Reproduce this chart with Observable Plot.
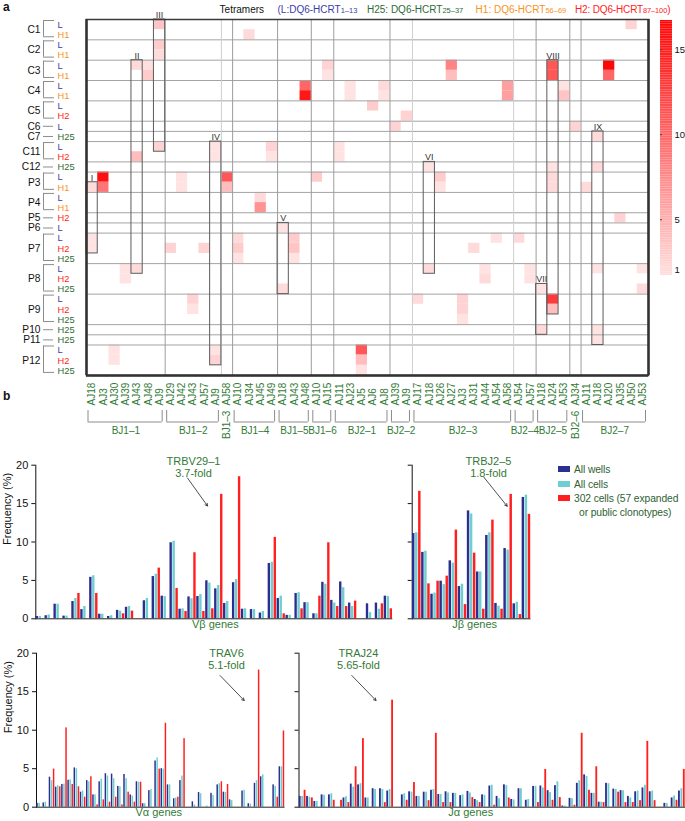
<!DOCTYPE html>
<html><head><meta charset="utf-8">
<script src="https://cdn.jsdelivr.net/npm/d3@7"></script>
<script src="https://cdn.jsdelivr.net/npm/@observablehq/plot@0.6"></script>
<style>
body{margin:0;background:#fff;}
#page{position:relative;width:685px;height:821px;overflow:hidden;font-family:"Liberation Sans",Arial,Helvetica,sans-serif;color:#111;}
svg{overflow:visible}
.lbl{position:absolute;white-space:nowrap;}
</style></head><body><div id="page"></div>
<script>
// ---------------- DATA ----------------
const tetramers = ["L", "H1", "H2", "H25"];
const donors = ["C1","C2","C3","C4","C5","C6","C7","C11","C12","P3","P4","P5","P6","P7","P8","P9","P10","P11","P12"];
const donorTetramers = [["L","H1"],["L","H1"],["L","H1"],["L","H1"],["L","H2"],["L"],["H25"],["L","H2"],["H25"],
  ["L","H1"],["L","H1"],["H2"],["L"],["L","H2","H25"],["L","H2","H25"],["L","H2","H25"],["H25"],["H25"],["L","H2","H25"]];
const columns = ["AJ18","AJ3","AJ30","AJ39","AJ43","AJ48","AJ9","AJ29","AJ42","AJ43","AJ57","AJ9","AJ58",
  "AJ10","AJ34","AJ45","AJ49","AJ18","AJ43","AJ48","AJ10","AJ15","AJ11","AJ23","AJ5","AJ6","AJ8","AJ39","AJ9",
  "AJ17","AJ18","AJ26","AJ27","AJ3","AJ31","AJ44","AJ54","AJ58","AJ54","AJ57","AJ18","AJ24","AJ53","AJ34",
  "AJ11","AJ18","AJ20","AJ35","AJ50","AJ53"];
const bjGroups = ["BJ1–1","BJ1–2","BJ1–3","BJ1–4","BJ1–5","BJ1–6","BJ2–1","BJ2–2","BJ2–3","BJ2–4","BJ2–5","BJ2–6","BJ2–7"];
const bjSizes = [7,5,1,4,3,2,5,2,9,2,3,1,6];
// [row index, column index, % of tetramer+ cells]
const cells = [
  [0,6,3.5],[0,48,2.5],[1,14,2],[2,6,3],[3,6,2],
  [4,4,2],[4,5,1.7],[4,21,2.5],[4,32,8],[4,41,11],[4,46,16.5],
  [5,5,3],[5,21,1.5],[5,32,4],[5,41,11],[5,46,10],
  [6,19,10],[6,23,1.5],[6,26,2],[6,37,6],[6,42,1.5],
  [7,19,15.5],[7,23,1.5],[7,26,1.5],[7,37,6],[7,42,3.5],
  [8,25,3],[9,28,2.5],[10,27,2.5],[10,43,2.5],[11,45,2],
  [12,6,2.5],[12,11,1.5],[12,16,2.5],[12,22,1.5],
  [13,4,4],[13,11,1.5],[13,16,1.5],[13,22,1.5],
  [14,30,1.5],[14,41,1.5],[14,45,2],
  [15,1,16],[15,8,1.5],[15,12,11],[15,20,3],[15,31,3],[15,41,2],
  [16,0,2],[16,1,9],[16,8,1.5],[16,12,4],[16,31,1.5],[16,41,2],[16,44,2],
  [17,15,2],[18,15,7],[19,47,2.5],[20,17,1.5],
  [21,0,1.5],[21,13,2],[21,18,3],[21,36,1.5],[21,38,2],
  [22,0,1.5],[22,7,2.5],[22,10,2.5],[22,13,3],[22,18,3.5],[22,34,2],
  [23,13,1.5],[23,18,1.5],
  [24,3,1.5],[24,4,2],[24,30,2],[24,35,1.5],[24,39,1.5],[24,45,1.5],[24,49,1.5],
  [25,3,1.5],[25,35,2],[25,39,1.5],
  [26,17,2],[26,40,1.5],[26,49,2],
  [27,9,2.5],[27,29,2],[27,33,2.5],[27,41,13],
  [28,9,1.5],[28,33,2.5],[28,41,4],[29,33,1.5],
  [30,40,2],[30,45,1.5],[31,45,1.5],
  [32,2,1.5],[32,11,1.5],[32,24,11],[33,2,1.5],[33,11,2.5],[33,24,4],[34,24,1.5]
];
// outlined clonotype boxes: label, column, first row, last row
const boxes = [["I",0,16,22],["II",4,4,24],["III",6,0,12],["IV",11,12,33],["V",17,20,26],
  ["VI",30,14,24],["VII",40,26,30],["VIII",41,4,28],["IX",45,11,31]];
const colorbarTicks = [5, 10, 15];

const seriesNames = ["All wells", "All cells", "302 cells (57 expanded\nor public clonotypes)"];
const vbAllWells = [0.3,0.4,1.9,0.35,2.25,1.2,5.4,0.6,0.3,1.1,1.5,0,2.35,5.5,2.95,9.9,1.25,2.85,2.9,4.95,3.9,2.0,4.7,1.25,1.2,0.75,7.2,2.65,0.45,3.3,2.1,0.65,4.75,2.4,4.8,2.05,0,1.95,2.05,2.95];
const vbAllCells = [0.3,0.5,1.9,0.35,2.65,1.6,5.6,0.6,0.4,1.0,1.6,0,2.65,5.8,2.9,10.1,1.3,2.6,3.15,4.65,4.35,2.25,5.1,1.3,1.2,0.95,7.35,2.95,0.45,3.4,2.1,0.65,4.5,2.05,4.05,1.6,0,0.8,1.25,2.9];
const vbSelected = [0,0,0,0,3.3,0,3.3,0,0,0.65,1.0,0,0,6.6,0,3.95,0.95,8.6,0.95,1.3,16.2,0,18.5,0,0,0,10.6,0.65,0,1.3,0,2.95,9.9,1.6,1.6,2.3,0,0,1.95,1.3];
const jbAllWells = [11.1,8.65,3.2,4.9,7.55,4.2,14.05,6.1,10.85,2.0,9.15,1.95,15.8];
const jbAllCells = [11.2,8.8,3.35,4.45,7.25,4.5,13.65,6.1,11.2,1.65,8.95,2.15,16.1];
const jbSelected = [16.6,4.55,4.9,5.55,11.55,1.85,8.55,1.25,12.85,1.25,16.2,0.55,13.6];
const vaAllWells = [0.5,0.55,3.9,2.6,2.95,3.5,5.1,1.95,3.45,1.6,3.3,4.35,4.3,2.7,4.25,1.6,3.3,0.45,2.15,6.0,5.0,2.9,1.1,3.45,0,0.7,1.9,0,1.8,2.9,1.95,0.95,0,2.1,0.45,3.1,3.95,0,2.9,5.25];
const vaAllCells = [0.5,0.65,3.45,2.8,3.0,3.55,5.0,2.1,3.3,1.6,3.65,4.05,3.7,2.65,3.7,1.45,3.25,0.45,2.3,6.4,4.95,2.9,1.2,4.05,0,0.3,1.75,0.15,1.55,3.05,1.9,0.85,0,2.2,0.4,3.45,4.2,0,2.7,5.25];
const vaSelected = [0,0,4.95,2.65,10.3,2.95,2.65,1.3,3.95,0.3,0.95,0.65,1.3,0.3,1.95,0.65,3.25,0,0,4.95,10.9,0,1.3,8.9,0,0,0,0,0,3.3,2.95,0,0,0,0,17.8,0,0,1.3,9.9];
const jaAllWells = [1.4,1.4,0.75,1.6,1.6,0,1.2,3.0,2.9,1.2,2.4,2.4,2.1,0,1.6,2.0,1.4,1.95,2.2,1.65,2.0,1.8,1.5,2.05,1.0,1.6,2.75,1.4,2.9,1.0,2.4,0.9,2.7,2.75,2.15,2.8,0.15,1.15,3.1,4.2,1.8,0.65,3.1,2.35,2.15,1.4,2.0,2.5,2.0,0,0.5,1.2,2.1];
const jaAllCells = [1.4,1.3,0.75,1.55,1.75,0,1.35,2.6,3.05,1.2,2.3,2.3,2.3,0,1.75,1.95,1.4,1.95,2.3,1.65,1.85,1.8,1.6,1.85,0.85,1.55,2.85,1.1,2.8,0.95,2.4,1.0,2.7,2.5,1.9,3.3,0.15,1.1,3.45,4.0,1.8,0.65,3.05,2.3,2.15,1.2,2.1,2.85,2.1,0,0.5,1.45,2.4];
const jaSelected = [2.2,1.2,0,0,0.9,0.9,0.6,5.25,8.9,0,0,0.6,13.9,0,0.9,3.2,0,0.85,9.6,0.6,0.6,0,0,1.25,0.6,0,0.25,0,1.2,0,0,0,0.6,4.9,0.9,1.25,0,0.25,9.6,2.2,5.25,0.6,0,1.95,0.6,0.6,0.85,8.55,0.85,0,0,0.9,4.9];
// fold-change call-outs: target gene, label position and arrow in data units
const callouts = {
  vb: {gene: "TRBV29–1", fold: "3.7-fold", lx: 17.67, ly: 19.77, ax1: 17.0, ay1: 18.33, ax2: 19.24, ay2: 14.69},
  jb: {gene: "TRBJ2–5", fold: "1.8-fold", lx: 8.35, ly: 19.77, ax1: 7.84, ay1: 18.44, ax2: 10.39, ay2: 14.66},
  va: {gene: "TRAV6", fold: "5.1-fold", lx: 30.58, ly: 19.25, ax1: 29.55, ay1: 17.1, ax2: 33.43, ay2: 13.86},
  ja: {gene: "TRAJ24", fold: "5.65-fold", lx: 8.15, ly: 19.25, ax1: 7.24, ay1: 17.1, ax2: 10.56, ay2: 13.86}
};

// ---------------- STYLE ----------------
const FONT = '"Liberation Sans", Arial, Helvetica, sans-serif';
const green = "#337a37";
const tetColor = {L: "#3d3da3", H1: "#f7931e", H2: "#ff1d1d", H25: "#2e6b34"};
const seriesColors = ["#2c2f8f", "#6dcfcf", "#ff1f1f"];
const heatColor = {type: "linear", domain: [1, 17], range: ["#ffe9e9", "#ff0000"]};
const page = document.getElementById("page");
function place(el, left, top) {
  el.style.position = "absolute"; el.style.left = left + "px"; el.style.top = top + "px";
  page.appendChild(el);
}
function html(str, left, top, css) {
  const d = document.createElement("div"); d.className = "lbl"; d.innerHTML = str;
  d.style.cssText += css || ""; place(d, left, top); return d;
}

// ---------------- PANEL A: heatmap ----------------
const rows = [];
const rowGroups = [];
donors.forEach((d, i) => {
  const start = rows.length;
  donorTetramers[i].forEach(t => rows.push({donor: d, tet: t, index: rows.length}));
  rowGroups.push({donor: d, start, end: rows.length, n: rows.length - start});
});
const rowBoundaries = rowGroups.slice(1).map(g => g.start);
const colGroups = [];
{ let c = 0; bjGroups.forEach((g, i) => { colGroups.push({name: g, start: c, end: c + bjSizes[i], n: bjSizes[i]}); c += bjSizes[i]; }); }
const lightCols = [12, 29, 38];
const colBoundaries = colGroups.slice(1).map(g => g.start);
const cellData = cells.map(([row, col, value]) => ({row, col, value}));
const boxData = boxes.map(([label, col, r1, r2]) => ({label, col, r1, r2}));
const nR = rows.length, nC = columns.length;
const multiR = rowGroups.filter(g => g.n > 1), singleR = rowGroups.filter(g => g.n === 1);
const multiC = colGroups.filter(g => g.n > 1), singleC = colGroups.filter(g => g.n === 1);
const bracket = "#8c8c8c";

const heat = Plot.plot({
  width: 685, height: 445, marginLeft: 86, marginRight: 37, marginTop: 19, marginBottom: 70,
  x: {domain: [0, nC], axis: null},
  y: {domain: [0, nR], reverse: true, axis: null},
  color: heatColor,
  style: {fontFamily: FONT, fontSize: "10px", background: "none", overflow: "visible"},
  marks: [
    Plot.rect(cellData, {x1: "col", x2: d => d.col + 1, y1: "row", y2: d => d.row + 1, fill: "value"}),
    Plot.ruleY(rowBoundaries, {stroke: "#a3a3a3", strokeWidth: 1}),
    Plot.ruleX(colBoundaries.filter(c => !lightCols.includes(c)), {stroke: "#9d9d9d", strokeWidth: 1}),
    Plot.ruleX(colBoundaries.filter(c => lightCols.includes(c)), {stroke: "#cfcfcf", strokeWidth: 1}),
    Plot.rect(boxData, {x1: "col", x2: d => d.col + 1, y1: "r1", y2: d => d.r2 + 1, fill: "none", stroke: "#5c5c5c", strokeWidth: 1}),
    Plot.text(boxData, {x: d => d.col + 0.5, y: "r1", text: "label", lineAnchor: "bottom", dy: -1.5, fontSize: 9, fill: "#333"}),
    Plot.frame({stroke: "#3a3a3a", strokeWidth: 1.5}),
    Plot.ruleX([0, nC], {stroke: "#333", strokeWidth: 2.5}),
    Plot.ruleY([nR], {stroke: "#333", strokeWidth: 2.5}),
    // row labels
    ...tetramers.map(t => Plot.text(rows.filter(r => r.tet === t), {x: () => 0, y: d => d.index + 0.5, text: "tet", textAnchor: "start", dx: -29, dy: 0.3, fill: tetColor[t], fontSize: 9.3})),
    Plot.text(rowGroups, {x: () => 0, y: d => (d.start + d.end) / 2, text: "donor", textAnchor: "end", dx: -46, fill: "#111", fontSize: 10.2}),
    Plot.ruleX(multiR, {x: () => 0, y1: "start", y2: d => d.end - 0.5, dx: -43, insetTop: 1, insetBottom: -2, stroke: bracket}),
    Plot.ruleY(multiR, {y: "start", x1: () => 0, x2: () => 0, insetLeft: -43, insetRight: 32, dy: 1, stroke: bracket}),
    Plot.ruleY(multiR, {y: d => d.end - 0.5, x1: () => 0, x2: () => 0, insetLeft: -43, insetRight: 32, dy: 2, stroke: bracket}),
    Plot.ruleY(singleR, {y: d => d.start + 0.5, x1: () => 0, x2: () => 0, insetLeft: -43, insetRight: 33, stroke: bracket}),
    // column labels
    Plot.text(columns.map((name, i) => ({name, i})), {x: d => d.i + 0.5, y: () => nR, text: "name", rotate: -90, textAnchor: "start", dy: 30, fill: green, fontSize: 10}),
    Plot.ruleY(multiC, {y: () => nR, x1: "start", x2: "end", insetLeft: 1.5, insetRight: 3, dy: 46.5, stroke: bracket}),
    Plot.ruleX(multiC, {x: "start", y1: () => nR, y2: () => nR, dx: 1.5, insetTop: 35, insetBottom: -46.5, stroke: bracket}),
    Plot.ruleX(multiC, {x: "end", y1: () => nR, y2: () => nR, dx: -3, insetTop: 35, insetBottom: -46.5, stroke: bracket}),
    Plot.text(multiC, {x: d => (d.start + d.end) / 2, y: () => nR, text: "name", dy: 55.5, fill: green, fontSize: 10}),
    Plot.text(singleC, {x: d => d.start + 0.5, y: () => nR, text: "name", rotate: -90, textAnchor: "start", dy: 63.5, fill: green, fontSize: 10})
  ]
});
place(heat, 0, 0);

const cbar = Plot.plot({
  width: 30, height: 290, marginLeft: 5, marginRight: 13, marginTop: 20, marginBottom: 15,
  y: {domain: [1.72, 16.72], axis: null},
  color: heatColor,
  style: {fontFamily: FONT, fontSize: "10px", background: "none", overflow: "visible"},
  marks: [
    Plot.rect(d3.range(1.72, 16.72, 0.1), {y1: d => d, y2: d => d + 0.101, fill: d => d + 0.05}),
    Plot.tickY(colorbarTicks, {y: d => d, insetRight: 10, stroke: "#444"}),
    Plot.text(colorbarTicks, {y: d => d, text: d => String(d), frameAnchor: "right", textAnchor: "start", dx: 2, fontSize: 9.5}),
    Plot.text(["1"], {frameAnchor: "bottom-right", text: d => d, textAnchor: "start", dx: 2, dy: -2.5, fontSize: 9.5})
  ]
});
place(cbar, 655, 0);

html("a", 3, 0, "font-weight:bold;font-size:12px;");
html("b", 3, 389, "font-weight:bold;font-size:12px;");
const hcss = "font-size:10px;line-height:12px;";
const sub = s => `<span style="font-size:7.5px">${s}</span>`;
html("Tetramers", 219.6, 4, hcss);
html("(L:DQ6-HCRT" + sub("1–13"), 277.5, 4, hcss + "color:" + tetColor.L);
html("H25: DQ6-HCRT" + sub("25–37"), 367, 4, hcss + "color:" + tetColor.H25);
html("H1: DQ6-HCRT" + sub("56–69"), 475.6, 4, hcss + "color:" + tetColor.H1);
html("H2: DQ6-HCRT" + sub("87–100") + ")", 575, 4, hcss + "color:" + tetColor.H2 + ";letter-spacing:-0.15px");

// ---------------- PANEL B: bar charts ----------------
function barChart({wells, cellsV, sel, width, height, ml, mr, mt, mb, labels, xLabel, xLabelDx = 0, call}) {
  const n = wells.length;
  const data = [];
  wells.forEach((v, g) => {
    data.push({g, s: 0, series: seriesNames[0], value: v});
    data.push({g, s: 1, series: seriesNames[1], value: cellsV[g]});
    data.push({g, s: 2, series: seriesNames[2], value: sel[g]});
  });
  const marks = [
    Plot.rect(data.filter(d => d.value > 0), {x1: d => d.g + d.s / 3, x2: d => d.g + (d.s + 1) / 3, y1: () => 0, y2: "value", fill: "series", insetLeft: 0.3, insetRight: 0.3}),
    Plot.ruleY([0], {stroke: "#222", strokeWidth: 1}),
    Plot.text([xLabel], {frameAnchor: "bottom", text: d => d, dy: 9, dx: xLabelDx, fill: green, fontSize: 11}),
    Plot.text([call], {x: "lx", y: "ly", text: d => d.gene + "\n" + d.fold, fill: green, fontSize: 11, lineHeight: 1.15}),
    Plot.arrow([call], {x1: "ax1", y1: "ay1", x2: "ax2", y2: "ay2", stroke: "#222", strokeWidth: 0.8, headLength: 5})
  ];
  if (labels) marks.push(Plot.text(["Frequency (%)"], {frameAnchor: "left", text: d => d, rotate: -90, dx: -28, dy: 3, fontSize: 11}));
  return Plot.plot({
    width, height, marginLeft: ml, marginRight: mr, marginTop: mt, marginBottom: mb,
    x: {domain: [0, n], axis: null},
    y: {domain: [0, 20], ticks: [0, 5, 10, 15, 20], tickSize: 4, tickPadding: 3.5, label: null, line: true,
        tickFormat: labels ? d => String(d) : () => ""},
    color: {domain: seriesNames, range: seriesColors},
    style: {fontFamily: FONT, fontSize: "11px", background: "none", overflow: "visible", color: "#111"},
    marks
  });
}
place(barChart({wells: vbAllWells, cellsV: vbAllCells, sel: vbSelected, width: 400, height: 182, ml: 35.3, mr: 7.7, mt: 12.7, mb: 15.7, labels: true, xLabel: "Vβ genes", xLabelDx: 1, call: callouts.vb}), 0, 452);
place(barChart({wells: jbAllWells, cellsV: jbAllCells, sel: jbSelected, width: 145, height: 182, ml: 16.7, mr: 9.5, mt: 12.7, mb: 15.7, labels: false, xLabel: "Jβ genes", xLabelDx: 3, call: callouts.jb}), 395, 452);
place(barChart({wells: vaAllWells, cellsV: vaAllCells, sel: vaSelected, width: 290, height: 181, ml: 36, mr: 5.5, mt: 12.7, mb: 14.3, labels: true, xLabel: "Vα genes", xLabelDx: -2, call: callouts.va}), 0, 640);
place(barChart({wells: jaAllWells, cellsV: jaAllCells, sel: jaSelected, width: 395, height: 181, ml: 8.5, mr: 0, mt: 12.7, mb: 14.3, labels: false, xLabel: "Jα genes", xLabelDx: -21.5, call: callouts.ja}), 290, 640);

// legend
const legendRows = [[seriesNames[0], 462.5], [seriesNames[1], 477.5], [seriesNames[2], 491.5]];
legendRows.forEach(([name, top], i) => {
  const lines = name.split("\n");
  html(`<span style="display:inline-block;width:12px;height:6px;background:${seriesColors[i]};margin-right:4px;vertical-align:1px"></span>${lines[0]}` +
       (lines[1] ? `<br><span style="padding-left:21px">${lines[1]}</span>` : ""),
       558, top, `font-size:10.3px;line-height:14px;color:#2f5f33;letter-spacing:-0.1px;`);
});
</script></body></html>
